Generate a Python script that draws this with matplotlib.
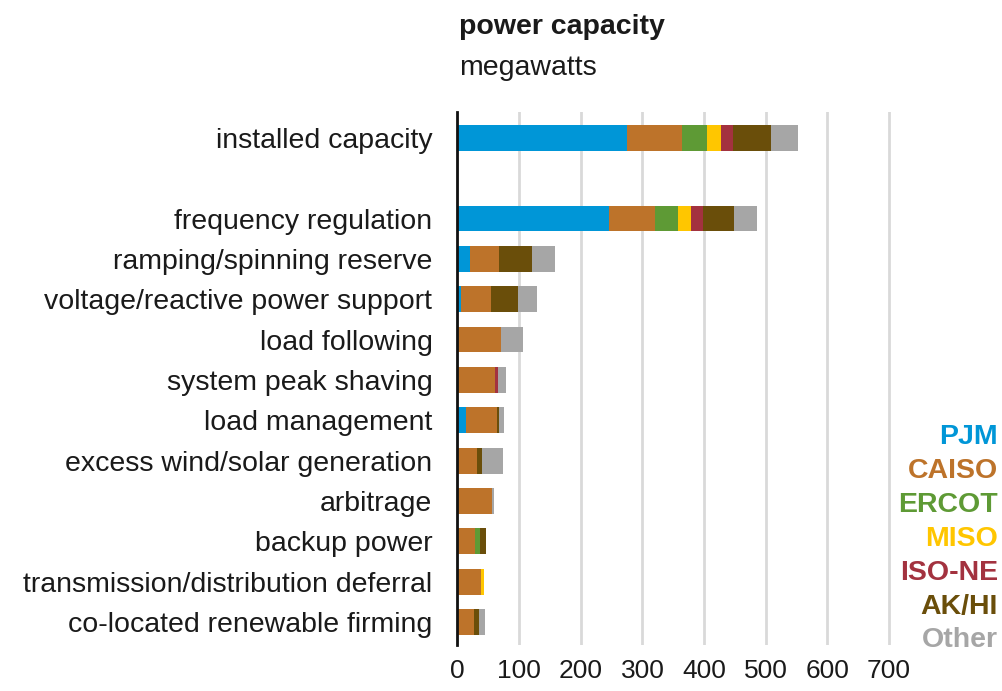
import matplotlib
matplotlib.use("Agg")
import matplotlib.pyplot as plt
import numpy as np

categories = ["installed capacity", "", "frequency regulation", "ramping/spinning reserve",
              "voltage/reactive power support", "load following", "system peak shaving",
              "load management", "excess wind/solar generation", "arbitrage", "backup power",
              "transmission/distribution deferral", "co-located renewable firming"]
series = ["PJM", "CAISO", "ERCOT", "MISO", "ISO-NE", "AK/HI", "Other"]
PJM    = [275, 0, 245, 21, 6, 0, 0, 13, 0, 0, 0, 0, 0]
CAISO  = [89, 0, 76, 47, 49, 71, 61, 51, 32, 56, 29, 38, 27]
ERCOT  = [41, 0, 37, 0, 0, 0, 0, 0, 0, 0, 8, 0, 0]
MISO   = [22, 0, 21, 0, 0, 0, 0, 0, 0, 0, 0, 5, 0]
ISONE  = [20, 0, 20, 0, 0, 0, 4, 0, 0, 0, 0, 0, 0]
AKHI   = [61, 0, 49, 53, 43, 0, 0, 3, 7, 0, 10, 0, 8]
Other  = [45, 0, 38, 37, 31, 35, 14, 9, 35, 4, 0, 0, 9]
xticks = [0, 100, 200, 300, 400, 500, 600, 700]

colors = ["#0096D7", "#BD732A", "#5E9A35", "#FFC600", "#A3323F", "#6A4E0A", "#A6A6A6"]
data = [PJM, CAISO, ERCOT, MISO, ISONE, AKHI, Other]

plt.rcParams['font.family'] = ['Liberation Sans', 'DejaVu Sans']

W, H = 1003, 691
fig = plt.figure(figsize=(W/100, H/100), dpi=100)
x0 = 457.5
pxu = (889 - 457.5) / 700.0
xmax = 710
x1 = x0 + xmax * pxu
ytop, ybot = 112, 645
ax = fig.add_axes([x0/W, 1 - ybot/H, (x1-x0)/W, (ybot-ytop)/H])

ypos = np.arange(len(categories))
left = np.zeros(len(categories))
for vals, col, name in zip(data, colors, series):
    ax.barh(ypos, vals, left=left, height=0.64, color=col, zorder=3, label=name)
    left += np.array(vals)

ax.set_xlim(0, xmax)
ax.set_ylim(12.57, -0.64)
ax.set_xticks(xticks)
ax.set_xticklabels([str(t) for t in xticks])
ax.set_yticks(ypos)
ax.set_yticklabels(categories)
ax.tick_params(axis='both', length=0, colors='#1a1a1a')
ax.tick_params(axis='y', labelsize=20.5, pad=18)
ax.tick_params(axis='x', labelsize=19, pad=10)
ax.grid(axis='x', color='#D9D9D9', linewidth=2, zorder=0)
for s in ['top', 'right', 'bottom']:
    ax.spines[s].set_visible(False)
ax.spines['left'].set_linewidth(2)
ax.spines['left'].set_color('#111111')
ax.spines['left'].set_zorder(5)

fig.text(459/W, 1 - 27/H, "power capacity", fontsize=20.5, fontweight='bold', va='center', ha='left', color='#1a1a1a')
fig.text(459/W, 1 - 68/H, "megawatts", fontsize=20.5, va='center', ha='left', color='#1a1a1a')

leg_y = [437, 471, 505, 539, 573, 607, 640]
for name, col, yy in zip(series, colors, leg_y):
    fig.text(998/W, 1 - yy/H, name, fontsize=20.5, fontweight='bold', color=col, ha='right', va='center')

fig.savefig("out.png", dpi=100)
